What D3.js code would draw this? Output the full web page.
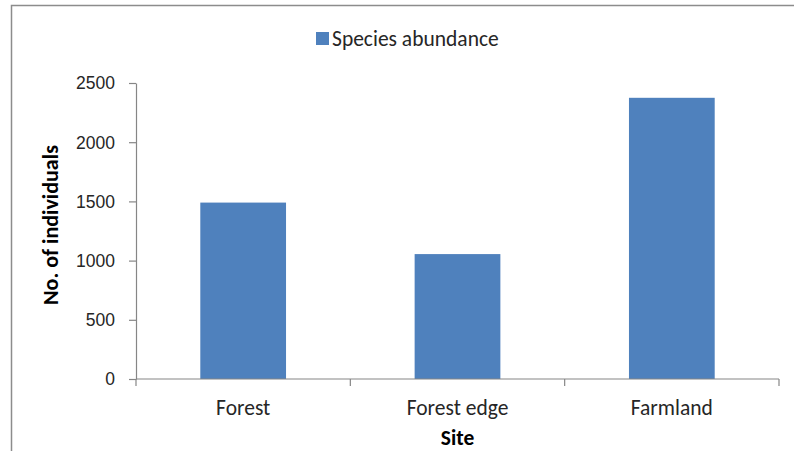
<!DOCTYPE html>
<html>
<head>
<meta charset="utf-8">
<script src="https://cdn.jsdelivr.net/npm/d3@7/dist/d3.min.js"></script>
<style>
  html, body { margin: 0; padding: 0; background: #fff; }
  svg { display: block; font-family: Carlito, Calibri, Lato, sans-serif; }
</style>
</head>
<body>
<svg id="chart" width="794" height="451"></svg>
<script>
// Site categories and counts of individuals
const sites = ["Forest", "Forest edge", "Farmland"];
const abundance = [1490, 1055, 2375];
const yTicks = [0, 500, 1000, 1500, 2000, 2500];
const seriesName = "Species abundance";
const yTitle = "No. of individuals";
const xTitle = "Site";

const W = 794, H = 451;
const margin = { left: 136, right: 15, top: 83, bottom: 72 };
const plotW = W - margin.left - margin.right;
const plotH = H - margin.top - margin.bottom;

const barColor = "#4F81BD";
const axisColor = "#868686";
const textColor = "#262626";
const labelSize = "21.5px";

const svg = d3.select("#chart");

// chart area frame (top and left edges)
svg.append("path")
  .attr("d", `M11.5,${H} V5.5 H${W}`)
  .attr("fill", "none")
  .attr("stroke", "#8c8c8c")
  .attr("stroke-width", 1.5);

const g = svg.append("g").attr("transform", `translate(${margin.left},${margin.top})`);

const x = d3.scaleBand().domain(sites).range([0, plotW]).paddingInner(0.6).paddingOuter(0.3);
const y = d3.scaleLinear().domain([0, 2500]).range([plotH, 0]);

// bars
g.selectAll("rect.bar")
  .data(sites.map((s, i) => ({ site: s, value: abundance[i] })))
  .join("rect")
  .attr("class", "bar")
  .attr("x", d => x(d.site))
  .attr("y", d => y(d.value))
  .attr("width", x.bandwidth())
  .attr("height", d => y(0) - y(d.value))
  .attr("fill", barColor);

// y axis
const yAxis = g.append("g")
  .call(d3.axisLeft(y).tickValues(yTicks).tickFormat(d3.format("d"))
    .tickSize(7).tickPadding(14).tickSizeOuter(0));
yAxis.select(".domain").attr("stroke", axisColor).attr("stroke-width", 1.2);
yAxis.selectAll(".tick line").attr("stroke", axisColor).attr("stroke-width", 1.2);
yAxis.selectAll(".tick text")
  .attr("fill", textColor)
  .style("font-size", "17.5px")
  .attr("dy", "0.34em");

// x axis: line with ticks at category boundaries
const xAxisG = g.append("g").attr("transform", `translate(0,${plotH})`);
xAxisG.append("line")
  .attr("x1", 0).attr("x2", plotW)
  .attr("stroke", axisColor).attr("stroke-width", 1.2);
const bounds = d3.range(sites.length + 1).map(i => i * plotW / sites.length);
xAxisG.selectAll("line.bound")
  .data(bounds)
  .join("line")
  .attr("class", "bound")
  .attr("x1", d => d).attr("x2", d => d)
  .attr("y1", 0).attr("y2", 7)
  .attr("stroke", axisColor).attr("stroke-width", 1.2);
xAxisG.selectAll("text.cat")
  .data(sites)
  .join("text")
  .attr("class", "cat")
  .attr("x", d => x(d) + x.bandwidth() / 2)
  .attr("y", 36)
  .attr("text-anchor", "middle")
  .attr("fill", textColor)
  .style("font-size", labelSize)
  .text(d => d);

// axis titles
svg.append("text")
  .attr("x", margin.left + plotW / 2)
  .attr("y", 445)
  .attr("text-anchor", "middle")
  .attr("fill", "#000")
  .style("font-size", labelSize)
  .style("font-weight", "bold")
  .text(xTitle);

svg.append("text")
  .attr("transform", `translate(57.5,225) rotate(-90)`)
  .attr("text-anchor", "middle")
  .attr("fill", "#000")
  .style("font-size", "22px")
  .style("font-weight", "bold")
  .text(yTitle);

// legend
const legend = svg.append("g").attr("transform", "translate(316,32)");
legend.append("rect").attr("width", 13).attr("height", 13).attr("fill", barColor);
legend.append("text")
  .attr("x", 16).attr("y", 13.5)
  .attr("fill", textColor)
  .style("font-size", labelSize)
  .text(seriesName);
</script>
</body>
</html>
